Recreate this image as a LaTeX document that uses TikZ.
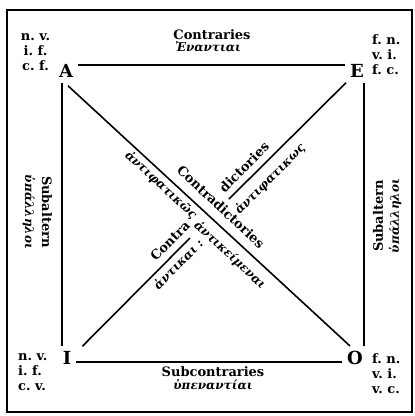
\documentclass[tikz,border=0pt]{standalone}
\usepackage{fontspec}
\setmainfont{DejaVu Serif}
\begin{document}
\begin{tikzpicture}[x=1pt, y=-1pt,
  vertex/.style={font=\fontsize{18}{18}\selectfont\bfseries, inner sep=5pt},
  side/.style={line width=1.6pt},
  term/.style={font=\fontsize{13}{15}\selectfont\bfseries, inner sep=0pt},
  greek/.style={font=\fontsize{12}{14}\selectfont\bfseries\itshape, inner sep=0pt},
  quantity/.style={font=\fontsize{13}{15}\selectfont\bfseries, inner sep=0pt}]
\useasboundingbox (0,0) rectangle (415,416);
\draw[line width=1.4pt] (7,10) rectangle (412,412);
\node[vertex] (A) at (66,71) {A};
\node[vertex] (E) at (357,71) {E};
\node[vertex] (I) at (67,358) {I};
\node[vertex] (O) at (355,358) {O};
\coordinate (g1) at (229,199);
\coordinate (g2) at (190,238);
\draw[side] ([yshift=6pt]A.east) -- ([yshift=6pt]E.west);
\draw[side] ([yshift=-4pt]I.east) -- ([yshift=-4pt]O.west);
\draw[side] ([xshift=-4pt]A.south) -- ([xshift=-5pt]I.north);
\draw[side] ([xshift=7pt]E.south) -- ([xshift=9pt]O.north);
\draw[side] ([shift={(2pt,-3pt)}]A.south) -- ([xshift=-5pt]O.north);
\draw[side] ([xshift=1pt]E.south west) -- (g1);
\draw[side] (g2) -- ([xshift=6pt]I.north east);
\node[quantity, align=center] (qa) at (35.5,52) {n.~v.\\i.~f.\\c.~f.};
\node[quantity, align=left, anchor=west] (qe) at (372,55) {f.~n.\\v.~i.\\f.~c.};
\node[quantity, align=left, anchor=west] (qi) at (18,372) {n.~v.\\i.~f.\\c.~v.};
\node[quantity, align=left, anchor=west] (qo) at (372,374) {f.~n.\\v.~i.\\v.~c.};
\node[term] (contr) at (212,35) {Contraries};
\node[greek] (contrgr) at (208,47) {Ἐναντιαι};
\node[term] (subcontr) at (213,372) {Subcontraries};
\node[greek] (subcontrgr) at (213,385) {ὑπεναντίαι};
\node[term, rotate=-90] (subl) at (47,212) {Subaltern};
\node[greek, rotate=-90] (sublgr) at (29,212) {ὑπάλληλοι};
\node[term, rotate=90] (subr) at (378,216) {Subaltern};
\node[greek, rotate=90] (subrgr) at (395,216) {ὑπάλληλοι};
\node[term, rotate=-43] (contrad) at (221,207) {Contradictories};
\node[greek, rotate=-43] (contradgr) at (161,185) {ἀντιφατικῶς};
\node[greek, rotate=-43] (opp) at (230,255) {ἀντικείμεναι};
\node[term, rotate=45] (dict) at (244,167) {dictories};
\node[greek, rotate=45] (dictgr) at (270,179) {ἀντιφατικως};
\node[term, rotate=45] (contra) at (170,241) {Contra};
\node[greek, rotate=45] (contragr) at (178,264) {ἀντικαι :};
\end{tikzpicture}
\end{document}
